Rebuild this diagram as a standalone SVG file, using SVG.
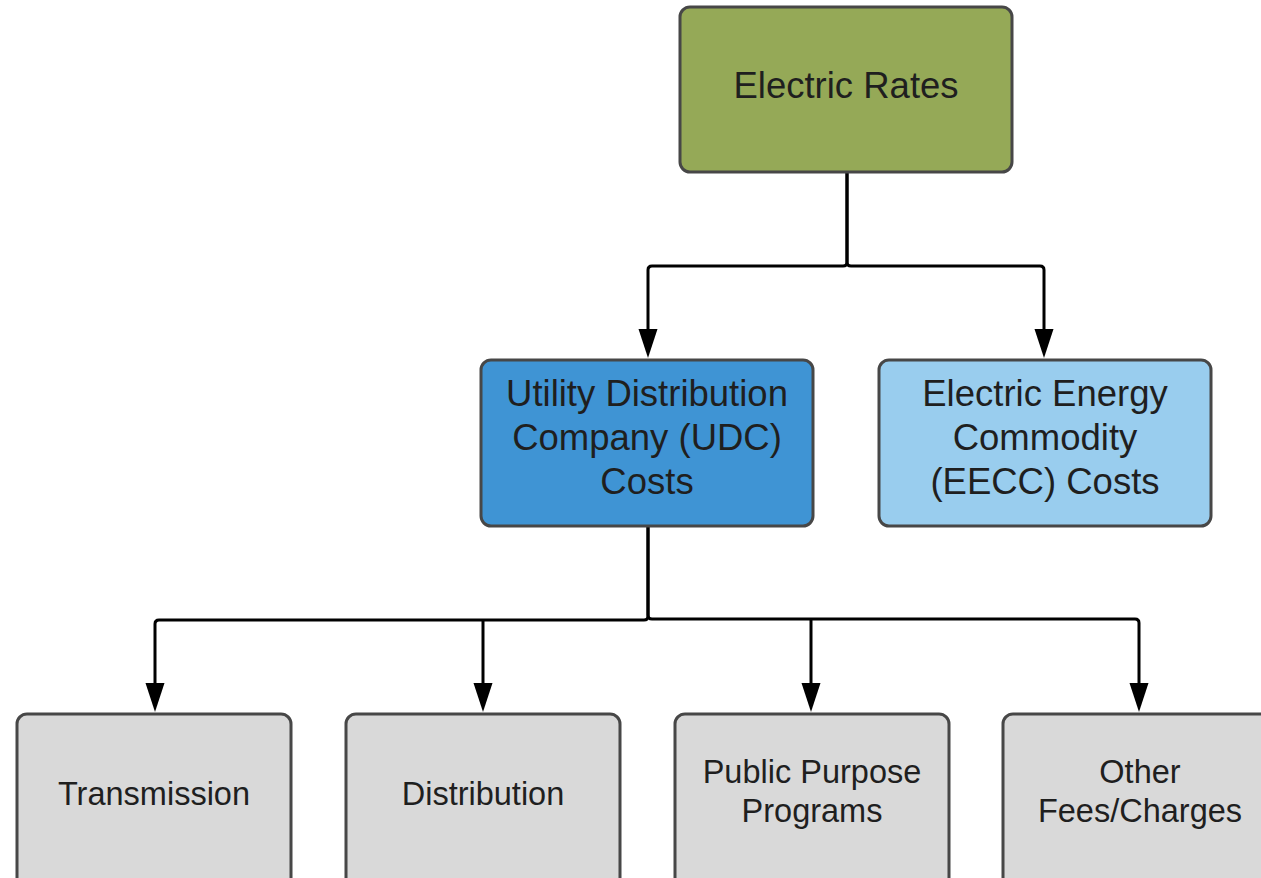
<svg xmlns="http://www.w3.org/2000/svg" width="1261" height="878" viewBox="0 0 1261 878">
<style>
.box{stroke:#474747;stroke-width:3;}
.t{font-family:"Liberation Sans",Arial,sans-serif;fill:#1f1f1f;text-anchor:middle;}
.big{font-size:36.5px;}
.small{font-size:32.5px;}
.conn{fill:none;stroke:#000;stroke-width:3;}
</style>
<defs>
<marker id="arr" markerUnits="userSpaceOnUse" markerWidth="30" markerHeight="20" viewBox="0 0 30 20" refX="0" refY="10" orient="auto">
<path d="M0,0.5 L29,10 L0,19.5 z" fill="#000"/>
</marker>
</defs>
<rect width="1261" height="878" fill="#fff"/>
<g id="connectors">
<path class="conn" marker-end="url(#arr)" d="M847,172 V262 Q847,266 843,266 H652 Q648,266 648,270 V329"/>
<path class="conn" marker-end="url(#arr)" d="M847,172 V262 Q847,266 851,266 H1040 Q1044,266 1044,270 V329"/>
<path class="conn" marker-end="url(#arr)" d="M648,526 V616 Q648,620 644,620 H159 Q155,620 155,624 V683"/>
<path class="conn" marker-end="url(#arr)" d="M483,620 V683"/>
<path class="conn" marker-end="url(#arr)" d="M648,526 V615 Q648,619 652,619 H1135 Q1139,619 1139,623 V683"/>
<path class="conn" marker-end="url(#arr)" d="M811,619 V683"/>
</g>
<g id="electric-rates">
<rect class="box" x="680" y="7" width="332" height="165" rx="10" fill="#95a957"/>
<text class="t big" x="846" y="98">Electric Rates</text>
</g>
<g id="udc">
<rect class="box" x="481" y="360" width="332" height="166" rx="10" fill="#3f94d4"/>
<text class="t big" x="647" y="406">Utility Distribution</text>
<text class="t big" x="647" y="450">Company (UDC)</text>
<text class="t big" x="647" y="494">Costs</text>
</g>
<g id="eecc">
<rect class="box" x="879" y="360" width="332" height="166" rx="10" fill="#99cdee"/>
<text class="t big" x="1045" y="406">Electric Energy</text>
<text class="t big" x="1045" y="450">Commodity</text>
<text class="t big" x="1045" y="494">(EECC) Costs</text>
</g>
<g id="transmission">
<rect class="box" x="17" y="714" width="274" height="180" rx="10" fill="#d9d9d9"/>
<text class="t small" x="154" y="805">Transmission</text>
</g>
<g id="distribution">
<rect class="box" x="346" y="714" width="274" height="180" rx="10" fill="#d9d9d9"/>
<text class="t small" x="483" y="805">Distribution</text>
</g>
<g id="public-purpose">
<rect class="box" x="675" y="714" width="274" height="180" rx="10" fill="#d9d9d9"/>
<text class="t small" x="812" y="783">Public Purpose</text>
<text class="t small" x="812" y="822">Programs</text>
</g>
<g id="other-fees">
<rect class="box" x="1003" y="714" width="274" height="180" rx="10" fill="#d9d9d9"/>
<text class="t small" x="1140" y="783">Other</text>
<text class="t small" x="1140" y="822">Fees/Charges</text>
</g>
</svg>
